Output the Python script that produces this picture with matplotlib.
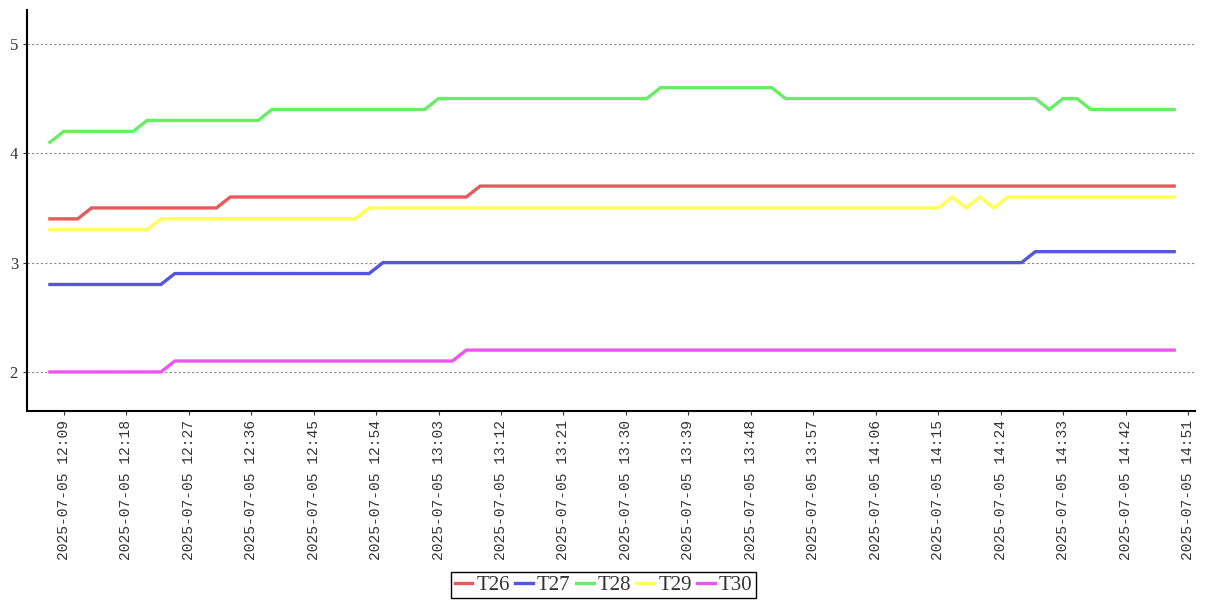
import matplotlib.pyplot as plt
import matplotlib.dates as mdates
import pandas as pd

# sample times, every 2 minutes
start_time = "2025-07-05 12:07"
n_points = 82
tick_start = "2025-07-05 12:09"
tick_end = "2025-07-05 14:51"

series_names = ["T26", "T27", "T28", "T29", "T30"]

t26 = [3.4, 3.4, 3.4, 3.5, 3.5, 3.5, 3.5, 3.5, 3.5, 3.5,
       3.5, 3.5, 3.5, 3.6, 3.6, 3.6, 3.6, 3.6, 3.6, 3.6,
       3.6, 3.6, 3.6, 3.6, 3.6, 3.6, 3.6, 3.6, 3.6, 3.6,
       3.6, 3.7, 3.7, 3.7, 3.7, 3.7, 3.7, 3.7, 3.7, 3.7,
       3.7, 3.7, 3.7, 3.7, 3.7, 3.7, 3.7, 3.7, 3.7, 3.7,
       3.7, 3.7, 3.7, 3.7, 3.7, 3.7, 3.7, 3.7, 3.7, 3.7,
       3.7, 3.7, 3.7, 3.7, 3.7, 3.7, 3.7, 3.7, 3.7, 3.7,
       3.7, 3.7, 3.7, 3.7, 3.7, 3.7, 3.7, 3.7, 3.7, 3.7,
       3.7, 3.7]
t27 = [2.8, 2.8, 2.8, 2.8, 2.8, 2.8, 2.8, 2.8, 2.8, 2.9,
       2.9, 2.9, 2.9, 2.9, 2.9, 2.9, 2.9, 2.9, 2.9, 2.9,
       2.9, 2.9, 2.9, 2.9, 3.0, 3.0, 3.0, 3.0, 3.0, 3.0,
       3.0, 3.0, 3.0, 3.0, 3.0, 3.0, 3.0, 3.0, 3.0, 3.0,
       3.0, 3.0, 3.0, 3.0, 3.0, 3.0, 3.0, 3.0, 3.0, 3.0,
       3.0, 3.0, 3.0, 3.0, 3.0, 3.0, 3.0, 3.0, 3.0, 3.0,
       3.0, 3.0, 3.0, 3.0, 3.0, 3.0, 3.0, 3.0, 3.0, 3.0,
       3.0, 3.1, 3.1, 3.1, 3.1, 3.1, 3.1, 3.1, 3.1, 3.1,
       3.1, 3.1]
t28 = [4.1, 4.2, 4.2, 4.2, 4.2, 4.2, 4.2, 4.3, 4.3, 4.3,
       4.3, 4.3, 4.3, 4.3, 4.3, 4.3, 4.4, 4.4, 4.4, 4.4,
       4.4, 4.4, 4.4, 4.4, 4.4, 4.4, 4.4, 4.4, 4.5, 4.5,
       4.5, 4.5, 4.5, 4.5, 4.5, 4.5, 4.5, 4.5, 4.5, 4.5,
       4.5, 4.5, 4.5, 4.5, 4.6, 4.6, 4.6, 4.6, 4.6, 4.6,
       4.6, 4.6, 4.6, 4.5, 4.5, 4.5, 4.5, 4.5, 4.5, 4.5,
       4.5, 4.5, 4.5, 4.5, 4.5, 4.5, 4.5, 4.5, 4.5, 4.5,
       4.5, 4.5, 4.4, 4.5, 4.5, 4.4, 4.4, 4.4, 4.4, 4.4,
       4.4, 4.4]
t29 = [3.3, 3.3, 3.3, 3.3, 3.3, 3.3, 3.3, 3.3, 3.4, 3.4,
       3.4, 3.4, 3.4, 3.4, 3.4, 3.4, 3.4, 3.4, 3.4, 3.4,
       3.4, 3.4, 3.4, 3.5, 3.5, 3.5, 3.5, 3.5, 3.5, 3.5,
       3.5, 3.5, 3.5, 3.5, 3.5, 3.5, 3.5, 3.5, 3.5, 3.5,
       3.5, 3.5, 3.5, 3.5, 3.5, 3.5, 3.5, 3.5, 3.5, 3.5,
       3.5, 3.5, 3.5, 3.5, 3.5, 3.5, 3.5, 3.5, 3.5, 3.5,
       3.5, 3.5, 3.5, 3.5, 3.5, 3.6, 3.5, 3.6, 3.5, 3.6,
       3.6, 3.6, 3.6, 3.6, 3.6, 3.6, 3.6, 3.6, 3.6, 3.6,
       3.6, 3.6]
t30 = [2.0, 2.0, 2.0, 2.0, 2.0, 2.0, 2.0, 2.0, 2.0, 2.1,
       2.1, 2.1, 2.1, 2.1, 2.1, 2.1, 2.1, 2.1, 2.1, 2.1,
       2.1, 2.1, 2.1, 2.1, 2.1, 2.1, 2.1, 2.1, 2.1, 2.1,
       2.2, 2.2, 2.2, 2.2, 2.2, 2.2, 2.2, 2.2, 2.2, 2.2,
       2.2, 2.2, 2.2, 2.2, 2.2, 2.2, 2.2, 2.2, 2.2, 2.2,
       2.2, 2.2, 2.2, 2.2, 2.2, 2.2, 2.2, 2.2, 2.2, 2.2,
       2.2, 2.2, 2.2, 2.2, 2.2, 2.2, 2.2, 2.2, 2.2, 2.2,
       2.2, 2.2, 2.2, 2.2, 2.2, 2.2, 2.2, 2.2, 2.2, 2.2,
       2.2, 2.2]

colors = ["#e85a5a", "#5555e0", "#66ee66", "#ffff55", "#ee55ee"]

times = pd.date_range(start_time, periods=n_points, freq="2min")
tick_times = pd.date_range(tick_start, tick_end, freq="9min")

plt.rcParams['font.family'] = ['Liberation Mono', 'DejaVu Sans']

fig = plt.figure(figsize=(12.07, 6.0), dpi=100)
ax = fig.add_axes([27 / 1207, 189 / 600, 1168 / 1207, 401 / 600])

for name, vals, c in zip(series_names, [t26, t27, t28, t29, t30], colors):
    ax.plot(times, vals, color=c, linewidth=2.4, label=name, solid_joinstyle='miter')

ax.set_xlim(times[0] - pd.Timedelta(minutes=3.3), times[-1] + pd.Timedelta(minutes=3.0))
ax.set_ylim(1.643, 5.31)
ax.set_yticks([2, 3, 4, 5])
ax.set_xticks(tick_times)
ax.xaxis.set_major_formatter(mdates.DateFormatter('%Y-%m-%d %H:%M'))
ax.tick_params(axis='x', labelrotation=90, labelsize=10.5, length=3, colors='#333333')
ax.tick_params(axis='y', labelsize=12, length=3, colors='#333333')
for lab in ax.get_yticklabels():
    lab.set_family('Liberation Serif')

ax.grid(axis='y', linestyle=(0, (2, 2)), color='#888888', linewidth=0.8)
ax.set_axisbelow(True)
for s in ['top', 'right']:
    ax.spines[s].set_visible(False)
for s in ['left', 'bottom']:
    ax.spines[s].set_linewidth(1.5)
    ax.spines[s].set_color('black')

leg = fig.legend(loc='lower center', bbox_to_anchor=(0.5, 0.003), ncol=5,
                 prop={'family': 'Liberation Serif', 'size': 15},
                 handlelength=0.85, handletextpad=0.2, columnspacing=0.25,
                 borderpad=0.15, fancybox=False, framealpha=1, borderaxespad=0)
leg.get_frame().set_edgecolor('black')
leg.get_frame().set_linewidth(1.0)
for t in leg.get_texts():
    t.set_color('#333333')

plt.savefig('out.png')
